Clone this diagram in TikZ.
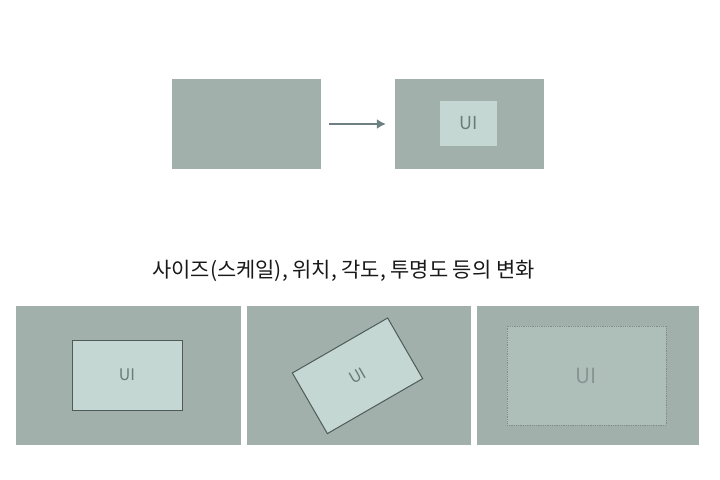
\documentclass[tikz,border=0pt]{standalone}
\usepackage{fontspec}
\usetikzlibrary{arrows.meta}
\setmainfont{Noto Sans CJK KR}
\definecolor{screenbg}{HTML}{A2B0AC}
\definecolor{uifill}{HTML}{C5D7D2}
\definecolor{uifade}{HTML}{AEBFBA}
\definecolor{uiline}{HTML}{4E5B59}
\definecolor{uitext}{HTML}{6C7A78}
\definecolor{arrowcol}{HTML}{6F8082}
\begin{document}
\begin{tikzpicture}[x=1bp,y=-1bp]
  \tikzstyle{screen}=[rectangle,fill=screenbg,inner sep=0pt];
  \tikzstyle{ui}=[rectangle,inner sep=0pt,text=uitext,fill=uifill];
  \tikzstyle{uibox}=[ui,draw=uiline,line width=1bp,minimum width=110bp,minimum height=70bp,font=\fontsize{16}{16}\selectfont];
  \tikzstyle{uifaded}=[ui,fill=uifade,draw=uiline!70,densely dotted,line width=0.8bp,text=uitext!80,minimum width=159bp,minimum height=99bp,font=\fontsize{21}{21}\selectfont];
  \tikzstyle{change}=[-{Latex[length=9bp,width=10bp]},line width=1.6bp,arrowcol];
  \tikzstyle{caption}=[font=\fontsize{21}{22}\selectfont,text=black!90];

  \useasboundingbox[fill=white] (0,0) rectangle (720,480);

  % before / after
  \node[screen,minimum width=149bp,minimum height=90bp] (before) at (246.5,124) {};
  \node[screen,minimum width=149bp,minimum height=90bp] (after) at (469.5,124) {};
  \node[ui,minimum width=57bp,minimum height=45bp,font=\fontsize{18}{18}\selectfont] (uiafter) at (468.5,123.5) {UI};
  \draw[change,shorten <=8bp,shorten >=9bp] (before.east) -- (after.west);

  % caption
  \node[caption] (title) at (343.5,271) {사이즈(스케일), 위치, 각도, 투명도 등의 변화};

  % size / position / angle / opacity
  \node[screen,minimum width=225bp,minimum height=139bp] (sizepos) at (128.5,375.5) {};
  \node[screen,minimum width=224bp,minimum height=139bp] (angle) at (359,375.5) {};
  \node[screen,minimum width=222bp,minimum height=139bp] (opacity) at (588,375.5) {};
  \node[uibox] (uisize) at (127,375) {UI};
  \node[uibox,rotate=30] (uiangle) at (357.5,375.8) {UI};
  \node[uifaded] (uiopacity) at (586.5,375.5) {UI};
\end{tikzpicture}
\end{document}
